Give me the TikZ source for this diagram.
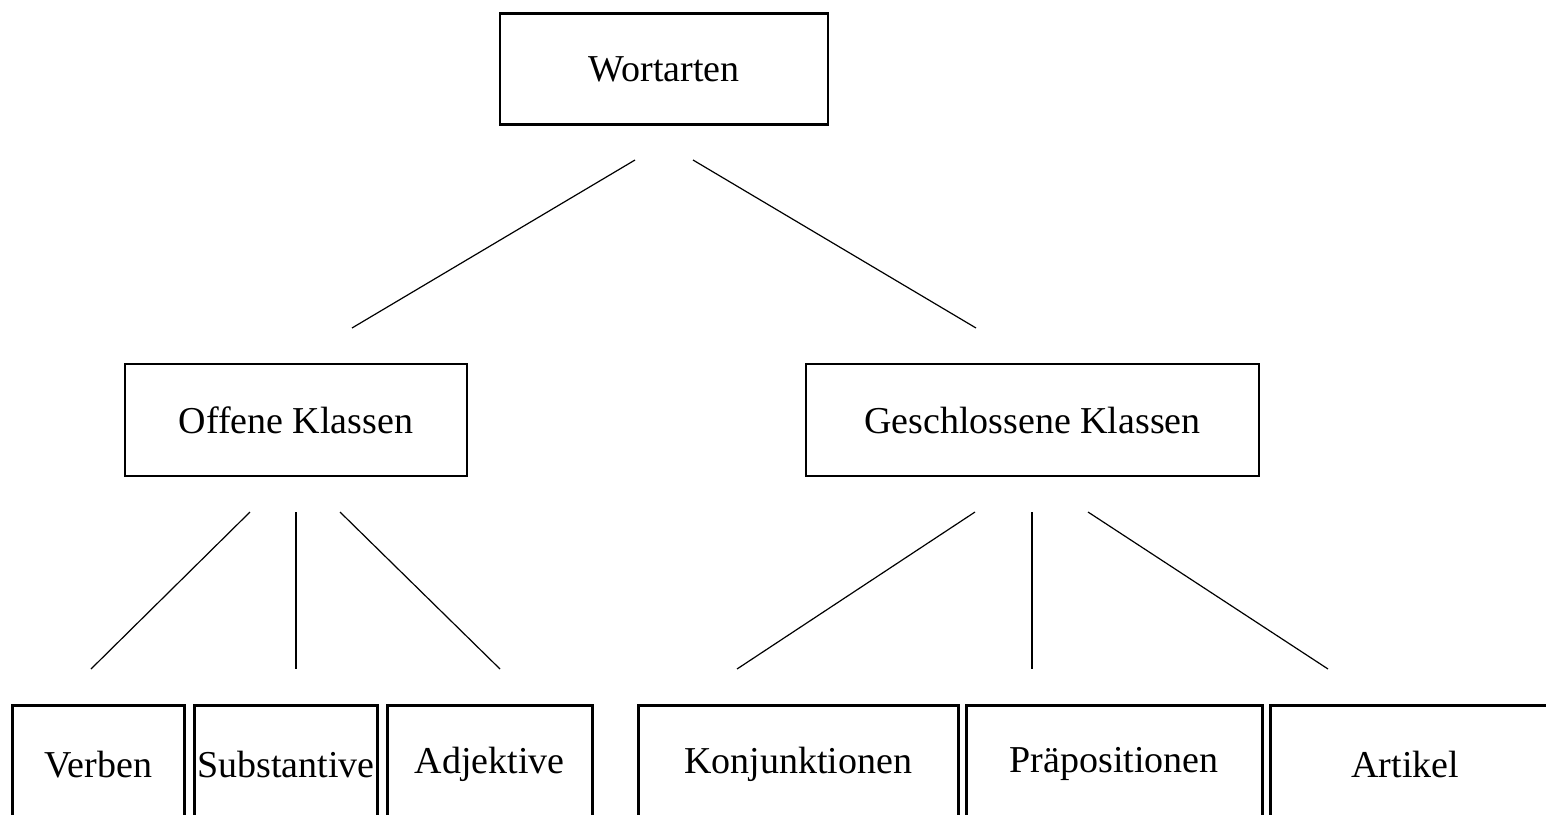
\documentclass[tikz,border=0pt]{standalone}
\usepackage{fontspec}
\setmainfont{Liberation Serif}
\begin{document}
\begin{tikzpicture}[x=1pt,y=-1pt,
  every node/.style={font=\fontsize{38}{44}\selectfont, inner sep=2pt},
  topbox/.style={draw, line width=2.7pt, minimum width=328pt, minimum height=111pt},
  midbox/.style={draw, line width=2pt, minimum height=112pt},
  leafbox/.style={draw, line width=2.6pt, anchor=north west, minimum height=118pt},
  link/.style={line width=1.2pt},
  stem/.style={line width=2pt}]
\useasboundingbox (0,0) rectangle (1546,814);
\clip (0,0) rectangle (1546,814);

% hierarchy boxes
\node[topbox] (wort) at (664,69) {Wortarten};
\node[midbox, minimum width=342pt] (offen) at (296,420) {Offene Klassen};
\node[midbox, minimum width=453pt] (geschl) at (1032.5,420) {Geschlossene Klassen};

% leaf boxes (their lower edge runs off the page)
\node[leafbox, minimum width=172pt] (verb) at (11,704) {Verben};
\node[leafbox, minimum width=183pt] (subst) at (193,704) {Substantive};
\node[leafbox, minimum width=205pt] (adj) at (386,704) {Adjektive};
\node[leafbox, minimum width=320pt] (konj) at (637,704) {Konjunktionen};
\node[leafbox, minimum width=296pt] (praep) at (965,704) {Präpositionen};
\node[leafbox, minimum width=320pt] (art) at (1269,704) {Artikel\hspace*{50pt}};

% free-standing connector ends
\coordinate (w1) at (635,160);  \coordinate (o0) at (352,328);
\coordinate (w2) at (693,160);  \coordinate (g0) at (976,328);
\coordinate (o1) at (250,512);  \coordinate (v0) at (91,669);
\coordinate (o2) at (296,512);  \coordinate (s0) at (296,669);
\coordinate (o3) at (340,512);  \coordinate (a0) at (500,669);
\coordinate (g1) at (975,512);  \coordinate (k0) at (737,669);
\coordinate (g2) at (1032,512); \coordinate (p0) at (1032,669);
\coordinate (g3) at (1088,512); \coordinate (r0) at (1328,669);

\draw[link] (w1) -- (o0);
\draw[link] (w2) -- (g0);
\draw[link] (o1) -- (v0);
\draw[stem] (o2) -- (s0);
\draw[link] (o3) -- (a0);
\draw[link] (g1) -- (k0);
\draw[stem] (g2) -- (p0);
\draw[link] (g3) -- (r0);
\end{tikzpicture}
\end{document}
